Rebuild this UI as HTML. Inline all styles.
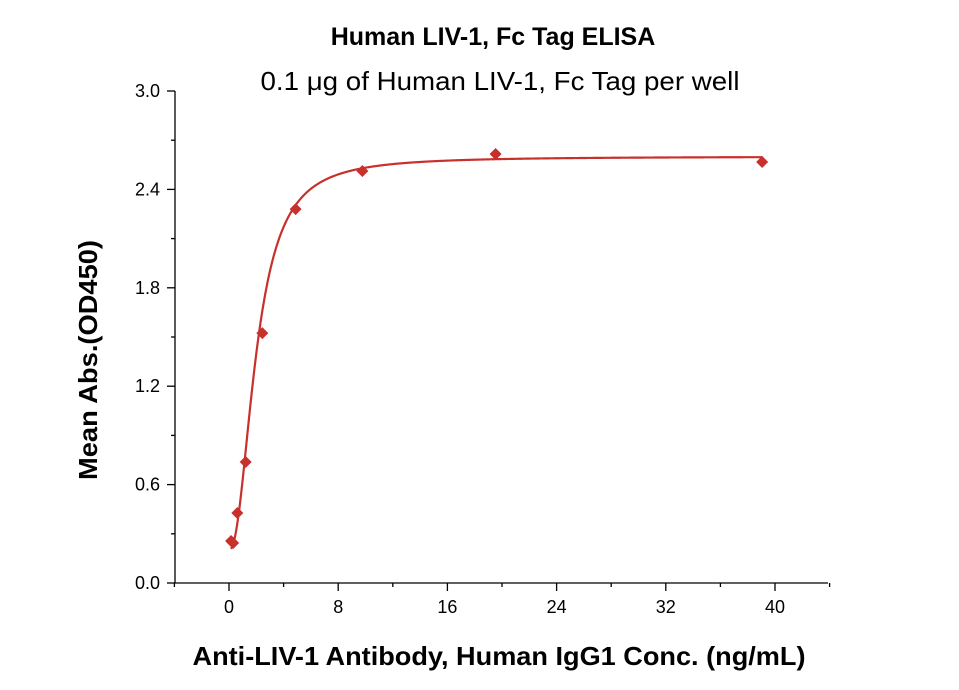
<!DOCTYPE html>
<html><head><meta charset="utf-8"><style>
body{margin:0;background:#fff;}
svg text{font-family:"Liberation Sans",sans-serif;}
</style></head><body>
<svg id="chart" width="959" height="685" viewBox="0 0 959 685">
<text x="493" y="45" text-anchor="middle" font-size="25" font-weight="bold">Human LIV-1, Fc Tag ELISA</text>
<text x="500" y="90" text-anchor="middle" font-size="26" textLength="479" lengthAdjust="spacingAndGlyphs">0.1 μg of Human LIV-1, Fc Tag per well</text>
<text x="499" y="665" text-anchor="middle" font-size="26" font-weight="bold" textLength="613" lengthAdjust="spacingAndGlyphs">Anti-LIV-1 Antibody, Human IgG1 Conc. (ng/mL)</text>
<text transform="translate(97,360) rotate(-90)" text-anchor="middle" font-size="26" font-weight="bold" textLength="240" lengthAdjust="spacingAndGlyphs">Mean Abs.(OD450)</text>
<g id="axes"></g>
<g id="marks"></g>
</svg>
<script>
const xTicks=[0,8,16,24,32,40];
const yTicks=[0.0,0.6,1.2,1.8,2.4,3.0];
const concentrations=[0.153,0.305,0.61,1.22,2.44,4.88,9.77,19.53,39.06];
const absorbance=[0.256,0.244,0.427,0.738,1.524,2.28,2.512,2.616,2.567];
const fitParams=[0.2,2.6,2.0,2.2];
const X=v=>229+v*13.65, Y=v=>583-v*164;
const ns="http://www.w3.org/2000/svg";
const axes=document.getElementById('axes'), marks=document.getElementById('marks');
function mk(tag,attrs,parent){const e=document.createElementNS(ns,tag);for(const k in attrs)e.setAttribute(k,attrs[k]);parent.appendChild(e);return e;}
let e=mk('line',{x1:175,y1:Y(3),x2:175,y2:583,stroke:'#000','stroke-width':1.3},axes);


e=mk('line',{x1:175,y1:583,x2:828,y2:583,stroke:'#000','stroke-width':1.3},axes);


yTicks.forEach((t,i)=>{
  mk('line',{x1:167,x2:175,y1:Y(t),y2:Y(t),stroke:'#000','stroke-width':1.3},axes);
  if(i<yTicks.length-1) mk('line',{x1:171,x2:175,y1:Y(t+0.3),y2:Y(t+0.3),stroke:'#000','stroke-width':1.3},axes);
  const tx=mk('text',{x:160,y:Y(t)+6,'text-anchor':'end','font-size':18},axes);tx.textContent=t.toFixed(1);
  
  
});
xTicks.forEach((t,i)=>{
  mk('line',{x1:X(t),x2:X(t),y1:583,y2:591,stroke:'#000','stroke-width':1.3},axes);
  mk('line',{x1:X(t+4),x2:X(t+4),y1:583,y2:587,stroke:'#000','stroke-width':1.3},axes);
  if(i==0) mk('line',{x1:X(-4),x2:X(-4),y1:583,y2:587,stroke:'#000','stroke-width':1.3},axes);
  const tx=mk('text',{x:X(t),y:613,'text-anchor':'middle','font-size':18},axes);tx.textContent=t;
  
  
});
const [b,tp,ec,h]=fitParams;
let d='';
for(let x=0.15;x<=39.1;x+=0.05){const y=b+(tp-b)*Math.pow(x/ec,h)/(1+Math.pow(x/ec,h));d+=(d?'L':'M')+X(x).toFixed(2)+','+Y(y).toFixed(2);}
e=mk('path',{d:d,fill:'none',stroke:'#c8302c','stroke-width':2.2},marks);


concentrations.forEach((c,i)=>{
  const cx=X(c),cy=Y(absorbance[i]);
  const p=mk('polygon',{points:`${cx},${cy-6} ${cx+6},${cy} ${cx},${cy+6} ${cx-6},${cy}`,fill:'#c8302c'},marks);
  
  
});
</script>
</body></html>
